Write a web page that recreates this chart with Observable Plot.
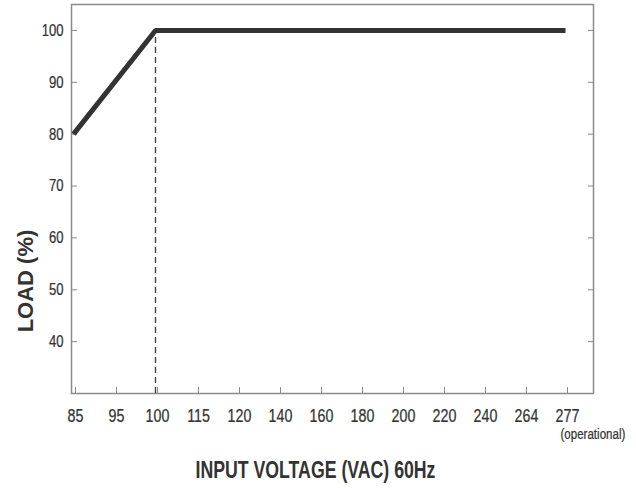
<!DOCTYPE html>
<html>
<head>
<meta charset="utf-8">
<script src="https://cdn.jsdelivr.net/npm/d3@7"></script>
<script src="https://cdn.jsdelivr.net/npm/@observablehq/plot@0.6"></script>
<style>
  html, body { margin: 0; padding: 0; background: #fff; }
  #chart svg { display: block; }
</style>
</head>
<body>
<div id="chart"></div>
<script>
const voltages = [85, 95, 100, 115, 120, 140, 160, 180, 200, 220, 240, 264, 277];
const curveVoltage = [85, 100, 277];
const curveLoad = [80, 100, 100];
const yTicks = [40, 50, 60, 70, 80, 90, 100];
const dashedAt = [100];
const xTitle = "INPUT VOLTAGE (VAC) 60Hz";
const yTitle = "LOAD (%)";
const note = "(operational)";
const noteAt = 277;

const curve = curveVoltage.map((v, i) => ({v, load: curveLoad[i]}));
const sans = "'Liberation Sans', Arial, Helvetica, sans-serif";

const plot = Plot.plot({
  width: 636,
  height: 488,
  marginLeft: 71,
  marginRight: 43,
  marginTop: 4,
  marginBottom: 95,
  style: {fontFamily: sans, fontSize: "16px", color: "#333", background: "#fff", overflow: "visible"},
  x: {type: "point", domain: voltages, padding: 0, insetRight: 26},
  y: {domain: [30, 105]},
  marks: [
    Plot.frame({stroke: "#8a8a8a", strokeWidth: 1.5}),
    Plot.axisY(yTicks, {anchor: "left", tickSize: -6, tickPadding: 14, stroke: "#8a8a8a", fill: "#333", fontSize: 17, label: null}),
    Plot.axisY(yTicks, {anchor: "right", tickSize: -6, tickFormat: () => "", stroke: "#8a8a8a", label: null}),
    Plot.axisX(voltages, {anchor: "bottom", tickSize: -6, tickPadding: 21.5, dx: 2, stroke: "#8a8a8a", fill: "#333", fontSize: 18.5, label: null}),
    Plot.ruleX(dashedAt, {x: d => d, y1: 30, y2: 100, stroke: "#444", strokeWidth: 1.4, strokeDasharray: "6,4"}),
    Plot.line(curve, {x: "v", y: "load", stroke: "#333", strokeWidth: 5, strokeLinejoin: "miter", strokeLinecap: "butt"}),
    Plot.text([note], {x: () => noteAt, frameAnchor: "bottom", text: d => d, dx: -5, dy: 41, textAnchor: "start", lineAnchor: "middle", fontSize: 15, fill: "#333"}),
    Plot.text([xTitle], {frameAnchor: "bottom", text: d => d, dx: -17, dy: 77, textAnchor: "middle", lineAnchor: "middle", fontSize: 23, fontWeight: "bold", fill: "#333"}),
    Plot.text([yTitle], {frameAnchor: "left", text: d => d, rotate: -90, dx: -46, dy: 82, textAnchor: "middle", lineAnchor: "middle", fontSize: 22, fontWeight: "bold", fill: "#333"})
  ]
});

// Emulate a narrow (condensed) typeface: compress glyphs horizontally around each text's anchor.
d3.select(plot).selectAll("text").each(function () {
  if (this.textContent === yTitle) return;
  const t = this.getAttribute("transform") || "";
  this.setAttribute("transform", (t + " scale(0.77,1)").trim());
  if (this.textContent !== xTitle) {
    this.setAttribute("stroke", "#333");
    this.setAttribute("stroke-width", "0.25");
  }
});

document.getElementById("chart").appendChild(plot);
</script>
</body>
</html>
